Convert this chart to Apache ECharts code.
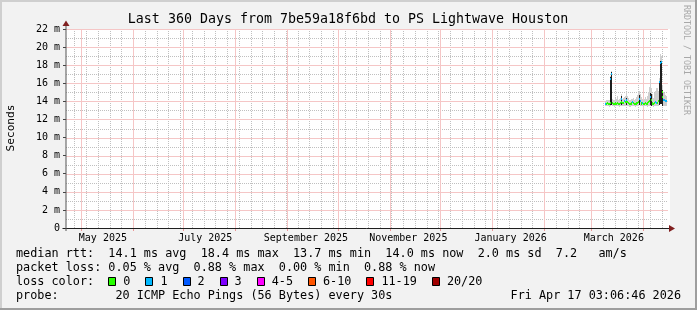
<!DOCTYPE html>
<html><head><meta charset="utf-8">
<script src="https://cdn.jsdelivr.net/npm/echarts@6/dist/echarts.min.js"></script>
<style>html,body{margin:0;padding:0;background:#F2F2F2}#c{width:697px;height:310px}</style>
</head><body><div id="c"></div>
<script>
// ---------- text ----------
const titleText = 'Last 360 Days from 7be59a18f6bd to PS Lightwave Houston';
const yAxisName = 'Seconds';
const sideText = 'RRDTOOL / TOBI OETIKER';
const medianStats = ['14.1 ms avg', '18.4 ms max', '13.7 ms min', '14.0 ms now', '2.0 ms sd', '7.2   am/s'];
const lossStats = ['0.05 % avg', '0.88 % max', '0.00 % min', '0.88 % now'];
const lossLabels = ['0', '1', '2', '3', '4-5', '6-10', '11-19', '20/20'];
const lossColors = ['#26ff00', '#00b8ff', '#0059ff', '#7e00ff', '#ff00ff', '#ff5500', '#ff0000', '#a10000'];
const probeText = '20 ICMP Echo Pings (56 Bytes) every 30s';
const stampText = 'Fri Apr 17 03:06:46 2026';

// ---------- axes ----------
const axisStart = '2025-04-22T03:06:46Z';
const axisEnd = '2026-04-17T03:06:46Z';
const slotHours = 12;
const firstGridMonth = [2025, 4];             // May 2025 (0-based month)
const firstWeekLine = '2025-04-27T00:00:00Z'; // Sundays
const xTickLabels = ['May 2025', 'July 2025', 'September 2025', 'November 2025', 'January 2026', 'March 2026'];
const xTickDates = ['2025-05-14T03:06:46Z', '2025-07-14T03:06:46Z', '2025-09-12T03:06:46Z', '2025-11-12T03:06:46Z', '2026-01-12T03:06:46Z', '2026-03-14T15:06:46Z'];
const yMin = 0, yMax = 22, yStep = 2, yMinorStep = 1;

// ---------- data (12 h slots, ms) ----------
const dataStart = '2026-03-09T15:06:46Z';
const median = [13.7,13.7,13.8,13.7,13.7,13.8,16.5,17.0,13.8,13.7,13.7,13.8,13.7,13.7,13.8,13.7,13.7,13.8,14.3,13.9,13.8,13.8,14.0,13.9,13.9,14.2,13.9,13.8,13.7,13.7,13.7,13.8,13.9,13.8,13.7,13.7,13.8,13.7,13.8,13.9,14.3,14.0,13.8,13.7,13.8,13.7,13.7,13.8,13.7,13.7,13.8,13.9,14.0,14.5,14.2,13.8,13.7,13.7,13.8,13.9,13.8,13.8,13.8,14.0,16.1,18.2,18.3,15.0,14.5,14.2,14.2,14.0,14.0];
const lossIdx = [1,0,0,0,0,0,1,1,0,0,0,0,0,0,0,0,0,0,1,0,0,0,1,0,0,1,0,0,0,0,0,0,1,0,0,0,0,0,0,0,1,1,0,0,1,0,0,0,0,0,0,0,0,1,0,0,0,0,0,1,1,0,0,0,1,1,1,0,0,1,1,1,1];
const smokeMin = [13.5,13.5,13.5,13.5,13.4,13.5,13.6,13.6,13.5,13.5,13.4,13.5,13.5,13.5,13.5,13.5,13.4,13.5,13.6,13.5,13.5,13.5,13.5,13.5,13.5,13.6,13.5,13.5,13.4,13.4,13.5,13.5,13.5,13.5,13.5,13.4,13.5,13.5,13.5,13.5,13.6,13.5,13.5,13.5,13.5,13.4,13.5,13.5,13.5,13.4,13.5,13.5,13.5,13.6,13.5,13.5,13.5,13.4,13.5,13.5,13.5,13.5,13.5,13.5,13.6,13.7,13.7,13.6,13.5,13.5,13.5,13.5,13.5];
const smokeMax = [14.0,14.1,14.2,14.1,14.2,14.3,16.8,17.4,14.3,14.2,14.1,14.4,14.2,14.3,14.6,14.2,14.3,14.4,14.8,14.5,14.3,14.4,14.5,14.6,14.8,15.0,14.6,14.4,14.2,14.1,14.2,14.3,14.3,14.4,14.2,14.3,14.5,14.4,14.7,15.0,15.2,14.8,14.5,14.4,14.3,14.2,14.3,14.5,14.3,14.2,14.6,15.0,15.6,16.4,15.5,14.8,14.5,14.4,14.9,15.2,15.5,15.5,15.0,15.2,16.6,19.2,19.0,15.8,15.4,15.0,14.9,14.7,14.6];
const coreHi = [null,null,null,null,null,null,16.7,17.2,null,null,null,null,null,null,null,null,null,null,14.6,null,null,null,null,null,null,14.4,null,null,null,null,null,null,null,null,null,null,null,null,null,null,14.7,null,null,null,null,null,null,null,null,null,null,null,null,14.9,14.8,null,null,null,null,null,null,null,null,null,16.2,18.5,18.5,15.25,15.0,null,null,null,null];

// ---------- derived axis helpers ----------
const startMs = Date.parse(axisStart), endMs = Date.parse(axisEnd);
const slotMs = slotHours * 3600e3;
const nSlots = Math.round((endMs - startMs) / slotMs);
const categories = [];
for (let i = 0; i <= nSlots; i++) categories.push(new Date(startMs + i * slotMs).toISOString().slice(0, 16));
const slotOfMs = t => Math.round((t - startMs) / slotMs);
const slotOf = d => slotOfMs(Date.parse(d));
const monthSlots = [];
for (let y = firstGridMonth[0], m = firstGridMonth[1]; ; m++) {
  if (m > 11) { m = 0; y++; }
  const t = Date.UTC(y, m, 1);
  if (t > endMs) break;
  monthSlots.push(slotOfMs(t));
}
const monthSet = new Set(monthSlots);
const weekSlots = [];
for (let t = Date.parse(firstWeekLine); t <= endMs; t += 7 * 86400e3) {
  const s = slotOfMs(t);
  if (!monthSet.has(s)) weekSlots.push(s);
}
const labelMap = new Map();
xTickDates.forEach((d, k) => labelMap.set(slotOf(d), xTickLabels[k]));

// grid lines: [slot, y, orientation(0 vertical / 1 horizontal), major(0/1)]
const gridData = [];
weekSlots.forEach(s => gridData.push([s, 0, 0, 0]));
for (let v = yMin + yMinorStep; v < yMax; v += yMinorStep) if (v % yStep !== 0) gridData.push([0, v, 1, 0]);
monthSlots.forEach(s => gridData.push([s, 0, 0, 1]));
for (let v = yMin + yStep; v <= yMax; v += yStep) gridData.push([0, v, 1, 1]);

const d0 = slotOf(dataStart);
const smokeData = median.map((_, i) => [d0 + i, smokeMin[i], smokeMax[i]]);
const coreData = coreHi.map((h, i) => h == null ? null : [d0 + i, smokeMin[i], h]).filter(Boolean);
const medianData = median.map((v, i) => [d0 + i, v, lossIdx[i]]);

const minorColor = '#c0c0c0', majorColor = '#f5c6c6';
function gridItem(params, api) {
  const cs = params.coordSys;
  const major = api.value(3) === 1;
  let shape;
  if (api.value(2) === 0) {
    const x = Math.round(api.coord([api.value(0), 0])[0]) + 0.5;
    shape = { x1: x, y1: cs.y, x2: x, y2: cs.y + cs.height };
  } else {
    const y = Math.round(api.coord([0, api.value(1)])[1]) + 0.5;
    shape = { x1: cs.x, y1: y, x2: cs.x + cs.width - 2, y2: y };
  }
  return { type: 'line', shape: shape, z2: major ? 2 : 1,
    style: { stroke: major ? majorColor : minorColor, lineWidth: 1, lineDash: major ? null : [1, 1] } };
}
function snapX(api, i, v) {
  const a = Math.round(api.coord([i, v])[0]);
  let b = Math.round(api.coord([i + 1, v])[0]);
  if (b <= a) b = a + 1;
  return [a, b];
}
function band(fill) {
  return function (params, api) {
    const i = api.value(0);
    const xs = snapX(api, i, api.value(1));
    const yTop = Math.round(api.coord([i, api.value(2)])[1]);
    const yBot = Math.round(api.coord([i, api.value(1)])[1]);
    return { type: 'rect', shape: { x: xs[0], y: yTop, width: xs[1] - xs[0], height: Math.max(1, yBot - yTop) }, style: { fill: fill } };
  };
}
function medianItem(params, api) {
  const i = api.value(0);
  const xs = snapX(api, i, api.value(1));
  const y = Math.round(api.coord([i, api.value(1)])[1]);
  return { type: 'rect', shape: { x: xs[0], y: y - 1, width: xs[1] - xs[0], height: 2 }, style: { fill: lossColors[api.value(2)] } };
}

// ---------- decoration / legend ----------
const MONO = 'DejaVu Sans Mono';
const cw = 7.1, lx = 16;
const rows = [254.3, 268.3, 282.3, 296.3];
function txt(x, y, s, size, opts) {
  opts = opts || {};
  return {
    type: 'text', x: x, y: y, rotation: opts.rot || 0, silent: true, z: 100,
    style: { text: s, font: size + 'px "' + MONO + '"', fill: opts.fill || '#000',
      textAlign: opts.align || 'left', align: opts.align || 'left',
      textVerticalAlign: 'middle', verticalAlign: 'middle' }
  };
}
const graphics = [
  { type: 'rect', shape: { x: 0, y: 0, width: 697, height: 2 }, style: { fill: '#CFCFCF' }, silent: true },
  { type: 'rect', shape: { x: 0, y: 0, width: 2, height: 310 }, style: { fill: '#CFCFCF' }, silent: true },
  { type: 'rect', shape: { x: 695, y: 0, width: 2, height: 310 }, style: { fill: '#9E9E9E' }, silent: true },
  { type: 'rect', shape: { x: 0, y: 308, width: 697, height: 2 }, style: { fill: '#9E9E9E' }, silent: true },
  // axis lines and arrows
  { type: 'line', shape: { x1: 62.5, y1: 228.5, x2: 670, y2: 228.5 }, style: { stroke: '#1f1f1f', lineWidth: 1 }, z: 50 },
  { type: 'line', shape: { x1: 66, y1: 231, x2: 66, y2: 25 }, style: { stroke: '#555', lineWidth: 1 }, z: 50 },
  { type: 'polygon', shape: { points: [[669, 225], [669, 232], [675, 228.5]] }, style: { fill: '#801f1f' }, z: 51 },
  { type: 'polygon', shape: { points: [[62.5, 26], [69.5, 26], [66, 20.5]] }, style: { fill: '#801f1f' }, z: 51 },
  txt(348, 19.4, titleText, 13.3, { align: 'center' }),
  txt(11, 128, yAxisName, 11.2, { align: 'center', rot: Math.PI / 2 }),
  txt(686, 5, sideText, 8.3, { rot: -Math.PI / 2, fill: '#a8a8a8' }),
  txt(lx, rows[0], 'median rtt:  ' + medianStats.join('  '), 11.8),
  txt(lx, rows[1], 'packet loss: ' + lossStats.join('  '), 11.8),
  txt(lx, rows[2], 'loss color:', 11.8),
  txt(lx, rows[3], 'probe:        ' + probeText, 11.8),
  txt(681, rows[3], stampText, 11.8, { align: 'right' })
];
let bx = lx + 13 * cw;
lossLabels.forEach((lab, k) => {
  graphics.push({ type: 'rect', shape: { x: Math.round(bx) + 0.5, y: 277.5, width: 7, height: 8 }, style: { fill: lossColors[k], stroke: '#000', lineWidth: 1 }, z: 100 });
  graphics.push(txt(bx + 15, rows[2], lab, 11.8));
  bx += 30 + lab.length * cw;
});

const option = {
  backgroundColor: '#F2F2F2',
  animation: false,
  grid: { left: 66, top: 29, width: 604, height: 199, show: true, backgroundColor: '#ffffff', borderWidth: 0 },
  xAxis: {
    type: 'category', data: categories, boundaryGap: false,
    axisLine: { show: false },
    axisTick: { show: true, interval: i => monthSet.has(i), length: 3, lineStyle: { color: '#eb9595' } },
    axisLabel: { interval: i => labelMap.has(i), formatter: (v, i) => labelMap.get(i) || '', fontFamily: MONO, fontSize: 10, color: '#000', margin: 5 },
    splitLine: { show: false }
  },
  yAxis: {
    type: 'value', min: yMin, max: yMax, interval: yStep,
    axisLine: { show: false },
    axisTick: { show: true, length: 3, lineStyle: { color: '#444' } },
    axisLabel: { formatter: v => v === 0 ? '0' : v + ' m', fontFamily: MONO, fontSize: 10, color: '#000', margin: 6 },
    splitLine: { show: false }
  },
  series: [
    { type: 'custom', name: 'grid', renderItem: gridItem, data: gridData, encode: { x: 0, y: 1 }, z: 1, silent: true },
    { type: 'custom', name: 'smoke', renderItem: band('#cfcfcf'), data: smokeData, encode: { x: 0, y: [1, 2] }, z: 5 },
    { type: 'custom', name: 'core', renderItem: band('#1e1e1e'), data: coreData, encode: { x: 0, y: [1, 2] }, z: 6 },
    { type: 'custom', name: 'median', renderItem: medianItem, data: medianData, encode: { x: 0, y: 1 }, z: 7 }
  ],
  graphic: graphics
};
const chart = echarts.init(document.getElementById('c'));
chart.setOption(option);
</script>
</body></html>
